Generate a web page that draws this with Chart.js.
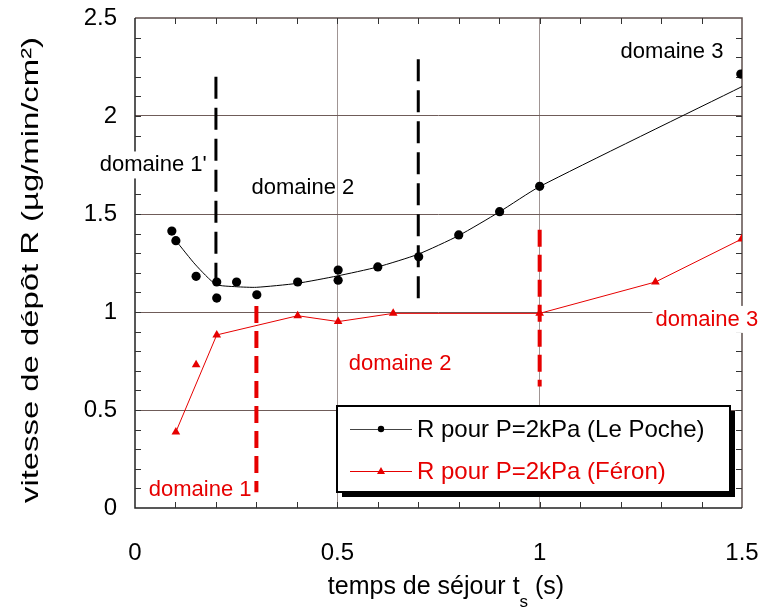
<!DOCTYPE html>
<html><head><meta charset="utf-8">
<script src="https://cdn.jsdelivr.net/npm/chart.js@4"></script>
<style>html,body{margin:0;padding:0;background:#fff}</style>
</head><body>
<canvas id="c" width="768" height="610"></canvas>
<script>
// ---- data ----
const lePocheX = [0.091, 0.101, 0.151, 0.202, 0.202, 0.251, 0.301, 0.402, 0.502, 0.502, 0.600, 0.701, 0.800, 0.901, 1.000, 1.497];
const lePocheY = [1.413, 1.364, 1.182, 1.153, 1.071, 1.153, 1.088, 1.153, 1.214, 1.162, 1.230, 1.282, 1.393, 1.512, 1.641, 2.214];
const fitX = [0.101, 0.15, 0.2, 0.25, 0.3, 0.4, 0.5, 0.6, 0.7, 0.8, 0.9, 1.0, 1.5];
const fitY = [1.364, 1.24, 1.141, 1.129, 1.126, 1.146, 1.184, 1.23, 1.295, 1.39, 1.51, 1.64, 2.15];
const feronX = [0.101, 0.151, 0.202, 0.402, 0.502, 0.638, 1.000, 1.286, 1.499];
const feronY = [0.388, 0.731, 0.883, 0.981, 0.951, 0.993, 0.993, 1.153, 1.372];
const feronOnLine = [1, 0, 1, 1, 1, 1, 1, 1, 1];
const blackBoundX = [0.2, 0.7];
const blackBoundTop = [2.20, 2.29];
const blackBoundBottom = [1.06, 1.06];
const redBoundX = [0.3, 1.0];
const redBoundTop = [1.03, 1.42];
const redBoundBottom = [0.08, 0.62];
const xTickLabels = [0, 0.5, 1, 1.5];
const yTickLabels = [0, 0.5, 1, 1.5, 2, 2.5];
const seriesNames = ['R pour P=2kPa (Le Poche)', 'R pour P=2kPa (Féron)'];
const noteTexts = ["domaine 1'", 'domaine 2', 'domaine 3', 'domaine 1', 'domaine 2', 'domaine 3'];
const noteX = [0.045, 0.415, 1.327, 0.161, 0.655, 1.413];
const noteY = [1.717, 1.602, 2.296, 0.061, 0.704, 0.929];
const noteSeries = [0, 0, 0, 1, 1, 1];
const noteBg = [1, 0, 0, 0, 0, 1];

// ---- styles ----
const BLACK = '#000000';
const RED = '#e60000';
const COLORS = [BLACK, RED];
const FONT = "'Liberation Sans', Arial, sans-serif";

const pts = (xs, ys) => xs.map((x, i) => ({x, y: ys[i]}));
const datasets = [
  {label: seriesNames[0], data: pts(lePocheX, lePocheY), showLine: false, pointStyle: 'circle',
   pointRadius: 4.6, backgroundColor: BLACK, borderColor: BLACK, borderWidth: 0},
  {label: 'fit', data: pts(fitX, fitY), showLine: true, pointRadius: 0, borderColor: BLACK, borderWidth: 1, tension: 0.2},
  {label: seriesNames[1], data: pts(feronX, feronY), showLine: false, pointStyle: 'triangle',
   pointRadius: 5, backgroundColor: RED, borderColor: RED, borderWidth: 0},
  {label: 'feronLine', data: pts(feronX.filter((_, i) => feronOnLine[i]), feronY.filter((_, i) => feronOnLine[i])),
   showLine: true, pointRadius: 0, borderColor: RED, borderWidth: 1}
];
blackBoundX.forEach((x, i) => datasets.push({label: 'b' + i, data: [{x, y: blackBoundTop[i]}, {x, y: blackBoundBottom[i]}],
  showLine: true, pointRadius: 0, borderColor: BLACK, borderWidth: 3, borderDash: [22, 9]}));
redBoundX.forEach((x, i) => datasets.push({label: 'r' + i, data: [{x, y: redBoundTop[i]}, {x, y: redBoundBottom[i]}],
  showLine: true, pointRadius: 0, borderColor: RED, borderWidth: 4, borderDash: [17, 8]}));

const decor = {
  id: 'decor',
  beforeDatasetsDraw(chart) {
    const {ctx, chartArea: a, scales: {x, y}} = chart;
    ctx.save();
    ctx.lineWidth = 1.5;
    ctx.strokeStyle = '#5e4f4c';
    ctx.beginPath();
    ctx.moveTo(a.left, a.top); ctx.lineTo(a.right, a.top); ctx.lineTo(a.right, a.bottom);
    ctx.stroke();
    ctx.strokeStyle = '#222';
    ctx.beginPath();
    ctx.moveTo(a.left, a.top); ctx.lineTo(a.left, a.bottom); ctx.lineTo(a.right, a.bottom);
    ctx.stroke();
    ctx.lineWidth = 1;
    ctx.strokeStyle = '#333';
    ctx.beginPath();
    for (let k = 1; k < 15; k++) {
      const px = Math.round(x.getPixelForValue(k / 10)) + 0.5;
      ctx.moveTo(px, a.bottom); ctx.lineTo(px, a.bottom - 6);
      ctx.moveTo(px, a.top); ctx.lineTo(px, a.top + 6);
    }
    for (let k = 1; k < 25; k++) {
      const py = Math.round(y.getPixelForValue(k / 10)) + 0.5;
      ctx.moveTo(a.left, py); ctx.lineTo(a.left + 6, py);
      ctx.moveTo(a.right, py); ctx.lineTo(a.right - 6, py);
    }
    ctx.stroke();
    ctx.restore();
  },
  afterDatasetsDraw(chart) {
    const {ctx, scales: {x, y}} = chart;
    ctx.save();
    ctx.font = '22px ' + FONT;
    ctx.textAlign = 'center';
    ctx.textBaseline = 'alphabetic';
    noteTexts.forEach((t, i) => {
      const px = x.getPixelForValue(noteX[i]);
      const py = y.getPixelForValue(noteY[i]);
      const w = ctx.measureText(t).width;
      if (noteBg[i]) {
        ctx.fillStyle = '#fff';
        ctx.fillRect(px - w / 2 - 3, py - 20, w + 6, 27);
      }
      ctx.fillStyle = COLORS[noteSeries[i]];
      ctx.fillText(t, px, py);
    });
    const L = 337, T = 406, R = 730, B = 492;
    ctx.fillStyle = '#000';
    ctx.fillRect(L + 5, T + 5, R - L, B - T);
    ctx.fillStyle = '#fff';
    ctx.fillRect(L, T, R - L, B - T);
    ctx.lineWidth = 2;
    ctx.strokeStyle = '#000';
    ctx.strokeRect(L, T, R - L, B - T);
    const rows = [429, 471];
    ctx.font = '24px ' + FONT;
    ctx.textAlign = 'left';
    ctx.textBaseline = 'middle';
    seriesNames.forEach((name, i) => {
      const yy = rows[i];
      const col = COLORS[i];
      ctx.strokeStyle = i === 0 ? '#444' : col;
      ctx.lineWidth = 1;
      ctx.beginPath(); ctx.moveTo(350, yy + 0.5); ctx.lineTo(412, yy + 0.5); ctx.stroke();
      ctx.fillStyle = col;
      ctx.beginPath();
      if (i === 0) { ctx.arc(381, yy, 3.2, 0, Math.PI * 2); }
      else { ctx.moveTo(381, yy - 4); ctx.lineTo(385, yy + 3); ctx.lineTo(377, yy + 3); ctx.closePath(); }
      ctx.fill();
      ctx.fillText(name, 417, yy + 1);
    });
    ctx.save();
    ctx.translate(38, 270);
    ctx.rotate(-Math.PI / 2);
    ctx.font = '24px ' + FONT;
    const yt = 'vitesse de dépôt R (µg/min/cm²)';
    const yw = ctx.measureText(yt).width;
    ctx.scale(466 / yw, 1);
    ctx.textAlign = 'center';
    ctx.textBaseline = 'alphabetic';
    ctx.fillStyle = '#000';
    ctx.fillText(yt, 0, 0);
    ctx.restore();
    const p1 = 'temps de séjour t', sub = 's', p2 = ' (s)';
    ctx.font = '25px ' + FONT;
    const w1 = ctx.measureText(p1).width, w3 = ctx.measureText(p2).width;
    ctx.font = '17px ' + FONT;
    const w2 = ctx.measureText(sub).width;
    let sx = 446 - (w1 + w2 + w3) / 2;
    const base = 594;
    ctx.textAlign = 'left';
    ctx.textBaseline = 'alphabetic';
    ctx.fillStyle = '#000';
    ctx.font = '25px ' + FONT; ctx.fillText(p1, sx, base); sx += w1;
    ctx.font = '17px ' + FONT; ctx.fillText(sub, sx, base + 13); sx += w2;
    ctx.font = '25px ' + FONT; ctx.fillText(p2, sx, base);
    ctx.restore();
  }
};

const fmt = v => String(Number(v.toFixed(1)));
const noTick = 'rgba(0,0,0,0)';
new Chart(document.getElementById('c'), {
  type: 'scatter',
  data: {datasets},
  options: {
    responsive: false, animation: false, devicePixelRatio: 1,
    layout: {padding: {top: 18, right: 26, left: 0, bottom: 0}},
    plugins: {legend: {display: false}, tooltip: {enabled: false}},
    scales: {
      x: {
        type: 'linear', min: 0, max: 1.5,
        afterBuildTicks: s => { s.ticks = xTickLabels.map(v => ({value: v})); },
        afterFit: s => { s.height = 102; },
        ticks: {font: {size: 24, family: FONT}, color: '#000', padding: 0, callback: fmt, maxRotation: 0},
        grid: {drawTicks: true, tickLength: 31, tickColor: noTick, lineWidth: 1,
          color: c => (c.tick && c.tick.value > 0 && c.tick.value < 1.5) ? '#a09594' : noTick},
        border: {display: false}
      },
      y: {
        type: 'linear', min: 0, max: 2.5,
        afterBuildTicks: s => { s.ticks = yTickLabels.map(v => ({value: v})); },
        afterFit: s => { s.width = 135; },
        ticks: {font: {size: 24, family: FONT}, color: '#000', padding: 0, callback: fmt},
        grid: {drawTicks: true, tickLength: 18, tickColor: noTick, lineWidth: 1,
          color: c => (c.tick && c.tick.value > 0 && c.tick.value < 2.5) ? '#6f5c59' : noTick},
        border: {display: false}
      }
    }
  },
  plugins: [decor]
});
</script>
</body></html>
